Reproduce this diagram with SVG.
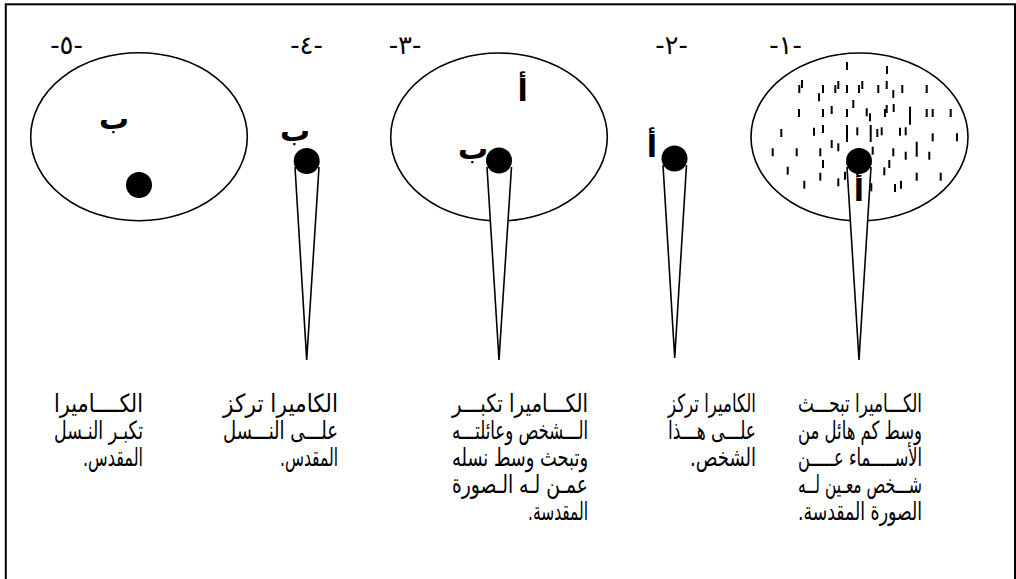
<svg xmlns="http://www.w3.org/2000/svg" width="1016" height="579" viewBox="0 0 1016 579">
<defs>
<style>
.bg{fill:#fff}
.frame{fill:none;stroke:#000;stroke-width:2}
.ell{fill:none;stroke:#000;stroke-width:1.6}
.cone{fill:#fff;stroke:#000;stroke-width:1.6;stroke-linejoin:miter}
.dot{fill:#000}
.tick{stroke:#000;stroke-width:2}
.lbl{font-family:"DejaVu Sans","Liberation Sans",sans-serif;font-size:26px;fill:#000;text-anchor:middle}
.ltr{font-family:"DejaVu Sans","Liberation Sans",sans-serif;font-size:30px;font-weight:bold;fill:#000;text-anchor:middle}
.txt{font-family:"DejaVu Sans","Liberation Sans",sans-serif;font-size:25px;fill:#000;direction:rtl;text-anchor:start}
</style>
</defs>
<rect class="bg" x="0" y="0" width="1016" height="579"/>
<rect class="frame" x="5.8" y="4.3" width="1009.2" height="620"/>

<g id="panel-1">
<text class="lbl" x="785.5" y="54">-١-</text>
<ellipse class="ell" cx="859.5" cy="137" rx="108.5" ry="84"/>
<g id="ticks" class="tick">
<line x1="847" y1="62" x2="847" y2="70"/>
<line x1="887" y1="66" x2="887" y2="74"/>
<line x1="802" y1="80" x2="802" y2="88"/>
<line x1="799.3" y1="85" x2="799.3" y2="93"/>
<line x1="823" y1="85" x2="823" y2="93"/>
<line x1="835.3" y1="85" x2="835.3" y2="93"/>
<line x1="838.3" y1="81" x2="838.3" y2="89"/>
<line x1="847" y1="85" x2="847" y2="93"/>
<line x1="859" y1="85" x2="859" y2="93"/>
<line x1="862.3" y1="81" x2="862.3" y2="89"/>
<line x1="878.3" y1="85" x2="878.3" y2="93"/>
<line x1="886.7" y1="81" x2="886.7" y2="89"/>
<line x1="893.3" y1="90" x2="893.3" y2="98"/>
<line x1="902.3" y1="85" x2="902.3" y2="93"/>
<line x1="926.7" y1="85" x2="926.7" y2="93"/>
<line x1="819" y1="93.3" x2="819" y2="101.3"/>
<line x1="853.3" y1="100" x2="853.3" y2="108"/>
<line x1="799" y1="109" x2="799" y2="117"/>
<line x1="823" y1="109" x2="823" y2="117"/>
<line x1="831.7" y1="106" x2="831.7" y2="114"/>
<line x1="847" y1="109" x2="847" y2="117"/>
<line x1="866.7" y1="108.3" x2="866.7" y2="116.3"/>
<line x1="870" y1="113.3" x2="870" y2="121.3"/>
<line x1="885" y1="109" x2="885" y2="117"/>
<line x1="886.7" y1="105" x2="886.7" y2="113"/>
<line x1="893.7" y1="104" x2="893.7" y2="112"/>
<line x1="910" y1="106.7" x2="910" y2="124.7"/>
<line x1="926.7" y1="109" x2="926.7" y2="117"/>
<line x1="932.7" y1="109" x2="932.7" y2="117"/>
<line x1="950.7" y1="109" x2="950.7" y2="117"/>
<line x1="781.3" y1="129" x2="781.3" y2="137"/>
<line x1="814" y1="127.7" x2="814" y2="135.7"/>
<line x1="823" y1="125" x2="823" y2="133"/>
<line x1="847" y1="125" x2="847" y2="142"/>
<line x1="857.3" y1="127.3" x2="857.3" y2="135.3"/>
<line x1="870.7" y1="125" x2="870.7" y2="142"/>
<line x1="877.3" y1="129" x2="877.3" y2="137"/>
<line x1="881.7" y1="127.3" x2="881.7" y2="135.3"/>
<line x1="900" y1="127.7" x2="900" y2="135.7"/>
<line x1="905.7" y1="127.3" x2="905.7" y2="135.3"/>
<line x1="932.7" y1="133.3" x2="932.7" y2="141.3"/>
<line x1="957" y1="133.3" x2="957" y2="141.3"/>
<line x1="831.7" y1="140" x2="831.7" y2="148"/>
<line x1="838.3" y1="143.3" x2="838.3" y2="151.3"/>
<line x1="772.7" y1="148.3" x2="772.7" y2="156.3"/>
<line x1="796.7" y1="148.3" x2="796.7" y2="156.3"/>
<line x1="820.3" y1="148.3" x2="820.3" y2="156.3"/>
<line x1="872.7" y1="146.7" x2="872.7" y2="154.7"/>
<line x1="893.3" y1="148.3" x2="893.3" y2="156.3"/>
<line x1="916.7" y1="141.7" x2="916.7" y2="156.7"/>
<line x1="905.7" y1="151.7" x2="905.7" y2="159.7"/>
<line x1="929.3" y1="151.7" x2="929.3" y2="159.7"/>
<line x1="823" y1="160" x2="823" y2="168"/>
<line x1="889.3" y1="160" x2="889.3" y2="168"/>
<line x1="787.7" y1="166.7" x2="787.7" y2="174.7"/>
<line x1="820.3" y1="172.7" x2="820.3" y2="180.7"/>
<line x1="845" y1="171.7" x2="845" y2="179.7"/>
<line x1="884.3" y1="167.3" x2="884.3" y2="175.3"/>
<line x1="916.7" y1="172.7" x2="916.7" y2="180.7"/>
<line x1="940.7" y1="172.7" x2="940.7" y2="180.7"/>
<line x1="804.3" y1="180.7" x2="804.3" y2="188.7"/>
<line x1="838.3" y1="178.3" x2="838.3" y2="186.3"/>
<line x1="871.3" y1="183.3" x2="871.3" y2="191.3"/>
<line x1="895" y1="184" x2="895" y2="192"/>
<line x1="901" y1="180.7" x2="901" y2="188.7"/>
</g>
<path class="cone" d="M847,167 L859,360 L871,167"/>
<circle class="dot" cx="859" cy="161" r="13"/>
<text class="ltr" x="859" y="201">أ</text>
<text class="txt" x="922" y="412" textLength="124" lengthAdjust="spacingAndGlyphs">الكـــاميرا تبحـــث</text>
<text class="txt" x="922" y="439" textLength="124" lengthAdjust="spacingAndGlyphs">وسط كم هائل من</text>
<text class="txt" x="922" y="466" textLength="124" lengthAdjust="spacingAndGlyphs">الأســـــماء عـــــن</text>
<text class="txt" x="922" y="493" textLength="124" lengthAdjust="spacingAndGlyphs">شـــخص معـين لــه</text>
<text class="txt" x="922" y="520" textLength="124" lengthAdjust="spacingAndGlyphs">الصورة المقدسة.</text>
</g>

<g id="panel-2">
<text class="lbl" x="671.5" y="54">-٢-</text>
<path class="cone" d="M663,165 L674.7,358 L686.5,165"/>
<circle class="dot" cx="674.5" cy="158.5" r="13"/>
<text class="ltr" x="652" y="157">أ</text>
<text class="txt" x="756" y="412" textLength="88" lengthAdjust="spacingAndGlyphs">الكاميرا تركز</text>
<text class="txt" x="756" y="439" textLength="88" lengthAdjust="spacingAndGlyphs">علـــى هـــذا</text>
<text class="txt" x="756" y="466" textLength="66" lengthAdjust="spacingAndGlyphs">الشخص.</text>
</g>

<g id="panel-3">
<text class="lbl" x="405" y="54">-٣-</text>
<ellipse class="ell" cx="499" cy="137" rx="108.3" ry="84"/>
<path class="cone" d="M487,167 L499,360 L511.5,167"/>
<circle class="dot" cx="499" cy="160.5" r="13"/>
<text class="ltr" x="522.7" y="101">أ</text>
<text class="ltr" x="473" y="159">ب</text>
<text class="txt" x="588" y="412" textLength="136" lengthAdjust="spacingAndGlyphs">الكـــاميرا تكبـــر</text>
<text class="txt" x="588" y="439" textLength="136" lengthAdjust="spacingAndGlyphs">الـــشخص وعائلتـــه</text>
<text class="txt" x="588" y="466" textLength="136" lengthAdjust="spacingAndGlyphs">وتبحث وسط نسله</text>
<text class="txt" x="588" y="493" textLength="136" lengthAdjust="spacingAndGlyphs">عمـن لـه الـصورة</text>
<text class="txt" x="588" y="520" textLength="60" lengthAdjust="spacingAndGlyphs">المقدسة.</text>
</g>

<g id="panel-4">
<text class="lbl" x="306.5" y="54">-٤-</text>
<path class="cone" d="M295,167 L306.7,360 L319,167"/>
<circle class="dot" cx="306.7" cy="161" r="13"/>
<text class="ltr" x="295" y="141">ب</text>
<text class="txt" x="338" y="412" textLength="115" lengthAdjust="spacingAndGlyphs">الكاميرا تركز</text>
<text class="txt" x="338" y="439" textLength="115" lengthAdjust="spacingAndGlyphs">علـــى النـــسل</text>
<text class="txt" x="338" y="466" textLength="58" lengthAdjust="spacingAndGlyphs">المقدس.</text>
</g>

<g id="panel-5">
<text class="lbl" x="66.5" y="54">-٥-</text>
<ellipse class="ell" cx="139" cy="136.7" rx="108.3" ry="84"/>
<circle class="dot" cx="139" cy="185" r="13"/>
<text class="ltr" x="114" y="129">ب</text>
<text class="txt" x="143" y="412" textLength="89" lengthAdjust="spacingAndGlyphs">الكــــاميرا</text>
<text class="txt" x="143" y="439" textLength="89" lengthAdjust="spacingAndGlyphs">تكبـر النـسل</text>
<text class="txt" x="143" y="466" textLength="60" lengthAdjust="spacingAndGlyphs">المقدس.</text>
</g>

<g id="connectors"></g>
</svg>
